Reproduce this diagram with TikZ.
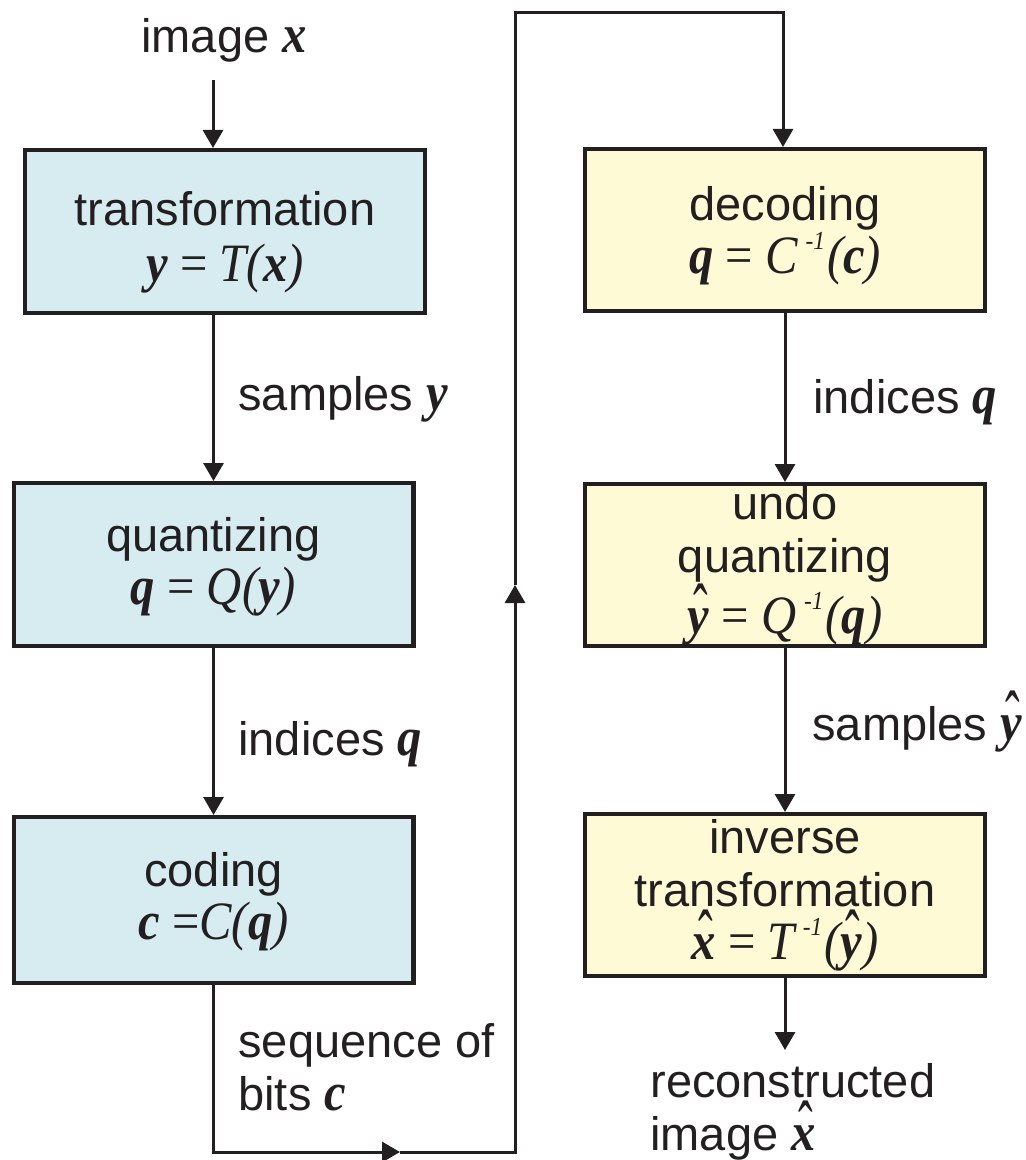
\documentclass[tikz,border=0pt]{standalone}
\usepackage{fontspec}
\usepackage{graphicx}
\setmainfont{Liberation Sans}
\newfontfamily\mth[FakeStretch=0.9]{Liberation Serif}
\usetikzlibrary{arrows.meta}

\definecolor{ink}{RGB}{35,31,32}
\definecolor{encfill}{RGB}{214,236,241}
\definecolor{decfill}{RGB}{255,250,214}

% formula pieces: bold italic vectors, italic operators
\newcommand\bv[1]{{\mth\bfseries\itshape #1}}
\newcommand\iv[1]{{\mth\itshape #1}}
\newcommand\eqsign{{\mth\ =\ }}
\newcommand\fml[1]{{\fontsize{27pt}{27pt}\selectfont #1}}
\newcommand\minv{\kern4pt\raisebox{12pt}{\fontsize{13pt}{13pt}\selectfont\mth\itshape -1}\kern1pt}
\newsavebox\hatbox
\newcommand\hatv[1]{\sbox\hatbox{\bv{#1}}\leavevmode
  \rlap{\hbox to\wd\hatbox{\hss\kern2pt\raisebox{-1.5pt}{\scalebox{0.9}[1.4]{\mth\symbol{"02C6}}}\hss}}\usebox\hatbox}
% extra head room on the first line of a box, to set its text lower
\newcommand\tp[1]{\rule{0pt}{\dimexpr0.729em+#1\relax}}

\begin{document}
\begin{tikzpicture}[x=0.5pt,y=-0.5pt,
  blk/.style={draw=ink, line width=2.2pt, align=center, inner sep=0pt,
    minimum width=199.8pt, minimum height=81.3pt, text=ink,
    font=\fontsize{23.5pt}{26.5pt}\selectfont},
  encbox/.style={blk, fill=encfill},
  decbox/.style={blk, fill=decfill},
  lbl/.style={inner sep=0pt, text=ink, font=\fontsize{23.5pt}{26.5pt}\selectfont},
  arr/.style={draw=ink, line width=1.5pt, -{Triangle[length=9pt,width=10pt]}}]

\useasboundingbox (0,0) rectangle (1026,1160);

% encoder column
\node[encbox] (l1) at (225,231.5) {\tp{11pt}transformation\\[1.5pt] \fml{\bv{y}\eqsign\iv{T(}\bv{x}\iv{)}}};
\node[encbox] (l2) at (213.5,564.5) {\tp{2pt}quantizing\\ \fml{\bv{q}\eqsign\iv{Q(}\bv{y}\iv{)}}};
\node[encbox, minimum height=82.8pt] (l3) at (213.5,900) {\tp{2pt}coding\\ \fml{\bv{c}{\mth\ =}\iv{C(}\bv{q}\iv{)}}};

% decoder column
\node[decbox, minimum height=80.8pt] (r1) at (785,230) {\tp{6pt}decoding\\ \fml{\bv{q}\eqsign\iv{C}\minv\iv{(}\bv{c}\iv{)}}};
\node[decbox, minimum height=80.8pt] (r2) at (785,565) {undo\\quantizing\\ \fml{\hatv{y}\eqsign\iv{Q}\minv\iv{(}\bv{q}\iv{)}}};
\node[decbox, minimum height=80.8pt] (r3) at (785,895) {inverse\\transformation\\ \fml{\hatv{x}\eqsign\iv{T}\minv\iv{(}\hatv{y}\iv{)}}};

% labels
\node[lbl, anchor=base] (img) at (224,53) {image \fml{\bv{x}}};
\node[lbl, anchor=base west] (sy) at (238,410) {samples \fml{\bv{y}}};
\node[lbl, anchor=base west] (iq) at (238,755) {indices \fml{\bv{q}}};
\node[lbl, anchor=base west, align=left] (bits) at (238,1110) {sequence of\\bits \fml{\bv{c}}};
\node[lbl, anchor=base west] (iq2) at (813,413) {indices \fml{\bv{q}}};
\node[lbl, anchor=base west] (syh) at (812,740) {samples \fml{\hatv{y}}};
\node[lbl, anchor=base west, align=left] (rec) at (650,1150) {reconstructed\\image \fml{\hatv{x}}};

% connectors
\coordinate (src) at (213,80);
\coordinate (m1) at (400,1152);
\coordinate (m2) at (515,585);
\coordinate (c4) at (783,13);
\coordinate (out) at (785,1050);

\draw[arr] (src) -- (src |- l1.north);
\draw[arr] (l2.north |- l1.south) -- (l2.north);
\draw[arr] (l2.south) -- (l3.north);
\draw[arr] (l3.south) |- (m1);
\draw[arr] (m1) -| (m2);
\draw[arr] (m2) |- (c4) -- (c4 |- r1.north);
\draw[arr] (r1.south) -- (r2.north);
\draw[arr] (r2.south) -- (r3.north);
\draw[arr] (r3.south) -- (out);
\end{tikzpicture}
\end{document}
